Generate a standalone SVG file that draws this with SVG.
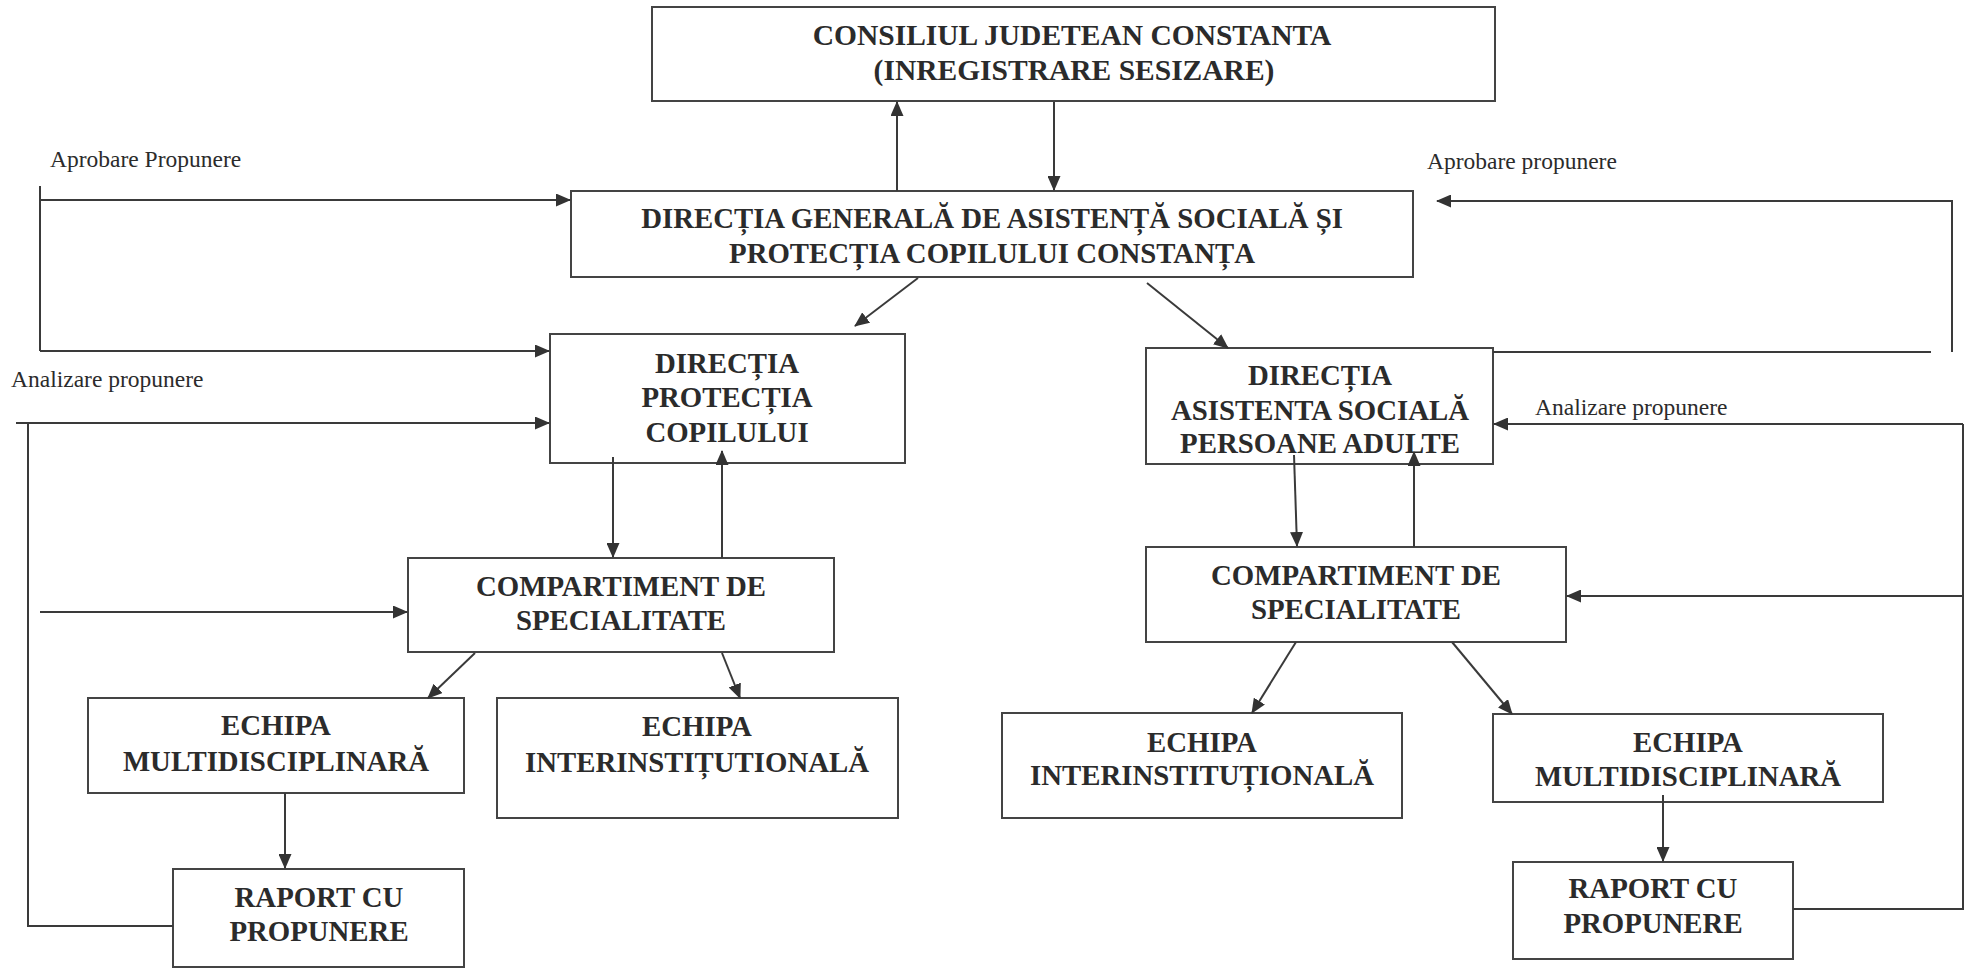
<svg xmlns="http://www.w3.org/2000/svg" width="1966" height="971" viewBox="0 0 1966 971">
<defs>
<marker id="arr" markerUnits="userSpaceOnUse" markerWidth="15" markerHeight="13" refX="14" refY="6.5" orient="auto">
<path d="M0,0 L15,6.5 L0,13 z" fill="#333"/>
</marker>
<style>
.box{fill:none;stroke:#444;stroke-width:2}
.t{font-family:"Liberation Serif","Times New Roman",serif;font-weight:bold;font-size:28.8px;fill:#2b2b2b;text-anchor:middle}
.lbl{font-family:"Liberation Serif","Times New Roman",serif;font-size:23.5px;fill:#2b2b2b}
.c{fill:none;stroke:#3a3a3a;stroke-width:2}
.a{marker-end:url(#arr)}
</style>
</defs>
<rect width="1966" height="971" fill="#fff"/>

<g id="labels">
<text class="lbl" x="50" y="167">Aprobare Propunere</text>
<text class="lbl" x="11" y="387">Analizare propunere</text>
<text class="lbl" x="1427" y="169">Aprobare propunere</text>
<text class="lbl" x="1535" y="415">Analizare propunere</text>
</g>

<g id="n_cj">
<rect class="box" x="652" y="7" width="843" height="94"/>
<text class="t" x="1072" y="45" style="font-size:29.5px">CONSILIUL JUDETEAN CONSTANTA</text>
<text class="t" x="1074" y="80" style="font-size:29.5px">(INREGISTRARE SESIZARE)</text>
</g>

<g id="n_dgaspc">
<rect class="box" x="571" y="191" width="842" height="86"/>
<text class="t" x="992" y="228">DIRECȚIA GENERALĂ DE ASISTENȚĂ SOCIALĂ ȘI</text>
<text class="t" x="992" y="263">PROTECȚIA COPILULUI CONSTANȚA</text>
</g>

<g id="n_dpc">
<rect class="box" x="550" y="334" width="355" height="129"/>
<text class="t" x="727" y="373">DIRECȚIA</text>
<text class="t" x="727" y="407">PROTECȚIA</text>
<text class="t" x="727" y="442">COPILULUI</text>
</g>

<g id="n_das">
<rect class="box" x="1146" y="348" width="347" height="116"/>
<text class="t" x="1320" y="385">DIRECȚIA</text>
<text class="t" x="1320" y="420">ASISTENTA SOCIALĂ</text>
<text class="t" x="1320" y="453">PERSOANE ADULTE</text>
</g>

<g id="n_cs1">
<rect class="box" x="408" y="558" width="426" height="94"/>
<text class="t" x="621" y="596">COMPARTIMENT DE</text>
<text class="t" x="621" y="630">SPECIALITATE</text>
</g>

<g id="n_cs2">
<rect class="box" x="1146" y="547" width="420" height="95"/>
<text class="t" x="1356" y="585">COMPARTIMENT DE</text>
<text class="t" x="1356" y="619">SPECIALITATE</text>
</g>

<g id="n_em1">
<rect class="box" x="88" y="698" width="376" height="95"/>
<text class="t" x="276" y="735">ECHIPA</text>
<text class="t" x="276" y="771">MULTIDISCIPLINARĂ</text>
</g>

<g id="n_ei1">
<rect class="box" x="497" y="698" width="401" height="120"/>
<text class="t" x="697" y="736">ECHIPA</text>
<text class="t" x="697" y="772">INTERINSTIȚUTIONALĂ</text>
</g>

<g id="n_rp1">
<rect class="box" x="173" y="869" width="291" height="98"/>
<text class="t" x="319" y="907">RAPORT CU</text>
<text class="t" x="319" y="941">PROPUNERE</text>
</g>

<g id="n_ei2">
<rect class="box" x="1002" y="713" width="400" height="105"/>
<text class="t" x="1202" y="752">ECHIPA</text>
<text class="t" x="1202" y="785">INTERINSTITUȚIONALĂ</text>
</g>

<g id="n_em2">
<rect class="box" x="1493" y="714" width="390" height="88"/>
<text class="t" x="1688" y="752">ECHIPA</text>
<text class="t" x="1688" y="786">MULTIDISCIPLINARĂ</text>
</g>

<g id="n_rp2">
<rect class="box" x="1513" y="862" width="280" height="97"/>
<text class="t" x="1653" y="898">RAPORT CU</text>
<text class="t" x="1653" y="933">PROPUNERE</text>
</g>

<g id="connectors">
<path class="c a" d="M897,191 V102"/>
<path class="c a" d="M1054,102 V190"/>
<path class="c" d="M40,186 V351"/>
<path class="c a" d="M40,200 H570"/>
<path class="c a" d="M40,351 H549"/>
<path class="c a" d="M16,423 H549"/>
<path class="c" d="M28,423 V926 H173"/>
<path class="c a" d="M40,612 H407"/>
<path class="c a" d="M918,278 L855,326"/>
<path class="c a" d="M1147,283 L1228,348"/>
<path class="c a" d="M613,457 V557"/>
<path class="c a" d="M722,558 V451"/>
<path class="c a" d="M475,653 L428,698"/>
<path class="c a" d="M722,653 L740,698"/>
<path class="c a" d="M285,793 V868"/>
<path class="c a" d="M1294,455 L1297,546"/>
<path class="c a" d="M1414,547 V452"/>
<path class="c a" d="M1296,642 L1252,713"/>
<path class="c a" d="M1452,642 L1512,714"/>
<path class="c a" d="M1663,795 V861"/>
<path class="c a" d="M1952,352 V201 H1437"/>
<path class="c" d="M1493,352 H1931"/>
<path class="c a" d="M1963,424 H1494"/>
<path class="c" d="M1963,424 V909 H1793"/>
<path class="c a" d="M1963,596 H1567"/>
</g>
</svg>
